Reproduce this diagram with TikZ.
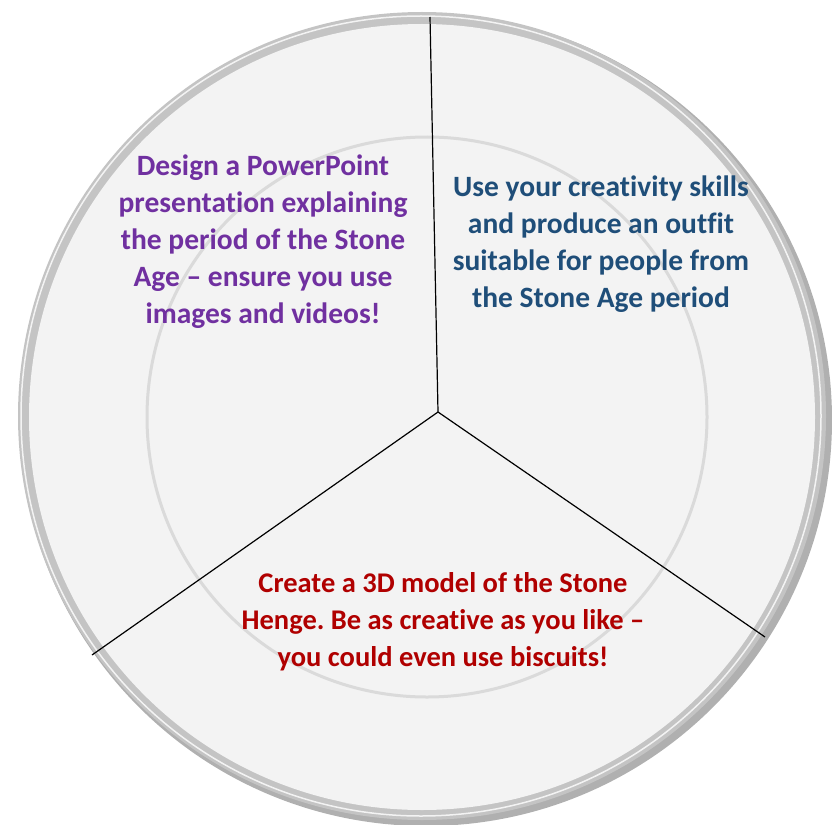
\documentclass[tikz,border=0pt]{standalone}
\usepackage{fontspec}
\setmainfont[Ligatures=TeX,RawFeature={-liga;-clig;-dlig;-calt}]{Carlito}
\usetikzlibrary{calc,positioning}
\definecolor{plate}{HTML}{F3F3F3}
\definecolor{rim}{HTML}{C4C4C4}
\definecolor{rimdark}{HTML}{B0B0B0}
\definecolor{ring}{HTML}{DADADA}
\definecolor{taskpurple}{HTML}{7030A0}
\definecolor{taskblue}{HTML}{1F4E79}
\definecolor{taskred}{HTML}{B00000}
\frenchspacing
\begin{document}
\begin{tikzpicture}[x=1pt,y=-1pt,
  task/.style={align=center,font=\fontsize{29.5}{37}\selectfont\bfseries,inner sep=0pt},
  cut/.style={black,line width=1.2pt}]
  \useasboundingbox (0,0) rectangle (832,824);
  % plate
  \fill[rimdark] (426,420) circle (406);
  \fill[rim] (422,416) circle (404);
  \fill[plate] (422,417) circle (393);
  \draw[white!80!rim,line width=1.5pt] (421,416) circle (400);
  \draw[ring,line width=3pt] (427,417) circle (280);
  % centre and rim points
  \coordinate (c) at (438,412);
  \coordinate (top) at (430,17);
  \coordinate (right) at (765,637);
  \coordinate (left) at (92,655);
  \draw[cut] (c) -- (top);
  \draw[cut] (c) -- (right);
  \draw[cut] (c) -- (left);
  % tasks
  \node[task,text=taskpurple] (ppt) at (263,242) {Design a PowerPoint\\presentation explaining\\the period of the Stone\\Age -- ensure you use\\images and videos!};
  \node[task,text=taskblue] (outfit) at (601,244) {Use your creativity skills\\and produce an outfit\\suitable for people from\\the Stone Age period};
  \node[task,text=taskred,font=\fontsize{28.5}{37}\selectfont\bfseries] (henge) at (443,622) {Create a 3D model of the Stone\\Henge. Be as creative as you like --\\you could even use biscuits!};
\end{tikzpicture}
\end{document}
